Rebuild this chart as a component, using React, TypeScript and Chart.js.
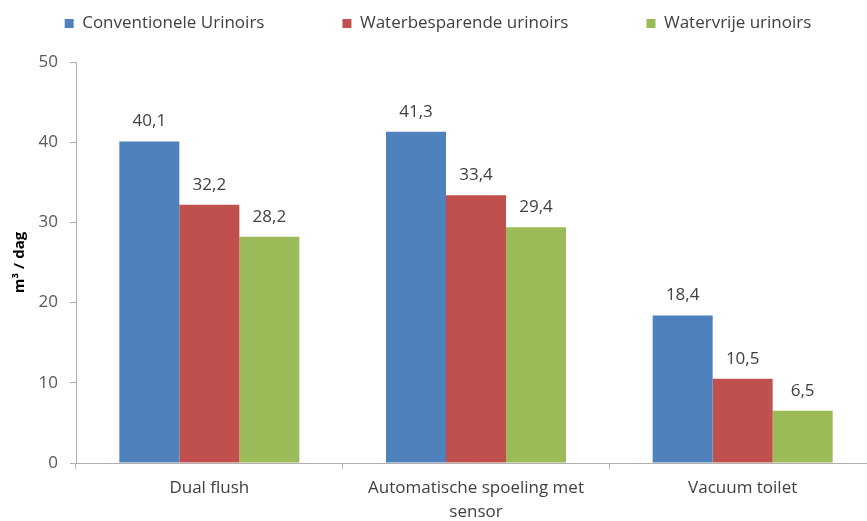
import React, { useEffect, useRef } from "react";
import { Chart, registerables } from "chart.js";

Chart.register(...registerables);

const categories: (string | string[])[] = [
  "Dual flush",
  ["Automatische spoeling met", "sensor"],
  "Vacuum toilet",
];
const seriesNames = [
  "Conventionele Urinoirs",
  "Waterbesparende urinoirs",
  "Watervrije urinoirs",
];
const conventional = [40.1, 41.3, 18.4];
const waterSaving = [32.2, 33.4, 10.5];
const waterless = [28.2, 29.4, 6.5];
const seriesColors = ["#4f81bd", "#c0504d", "#9bbb59"];
const yMin = 0;
const yMax = 50;
const yStep = 10;
const yTitle = "m³ / dag";

const FONT = "'Open Sans', sans-serif";
const LEGEND_GAP = 78;

const dataLabelPlugin = {
  id: "dataLabels",
  afterDatasetsDraw(chart: any) {
    const ctx = chart.ctx;
    ctx.save();
    ctx.font = `17px ${FONT}`;
    ctx.fillStyle = "#404040";
    ctx.textAlign = "center";
    ctx.textBaseline = "middle";
    chart.data.datasets.forEach((ds: any, i: number) => {
      const meta = chart.getDatasetMeta(i);
      meta.data.forEach((el: any, j: number) => {
        const v = ds.data[j] as number;
        ctx.fillText(v.toFixed(1).replace(".", ","), el.x, el.y - 20);
      });
    });
    ctx.restore();
  },
};

const legendPlacePlugin = {
  id: "legendPlace",
  afterInit(chart: any) {
    const lg = chart.legend;
    if (lg && !lg.__patched) {
      const orig = lg.update.bind(lg);
      lg.update = (mw: number, mh: number, m: any) => orig(mw + 400, mh, m);
      lg.__patched = true;
    }
  },
  afterLayout(chart: any) {
    const lg = chart.legend;
    if (lg) {
      lg.top = 15 - LEGEND_GAP;
      lg.left -= 200;
      lg.right += 200;
      lg.width = lg.right - lg.left;
    }
  },
};

export default function App() {
  const ref = useRef<HTMLCanvasElement | null>(null);
  useEffect(() => {
    if (!ref.current) return;
    const chart = new Chart(ref.current, {
      type: "bar",
      data: {
        labels: categories as any,
        datasets: [conventional, waterSaving, waterless].map((d, i) => ({
          label: seriesNames[i],
          data: d,
          backgroundColor: seriesColors[i],
          borderWidth: 0,
          barPercentage: 1,
          categoryPercentage: 0.675,
        })),
      },
      options: {
        responsive: false,
        animation: false,
        layout: { padding: { left: 0, right: 4, top: 0, bottom: 0 } },
        plugins: {
          tooltip: { enabled: false },
          legend: {
            position: "top",
            maxHeight: 62,
            labels: {
              boxWidth: 9,
              boxHeight: 9,
              padding: LEGEND_GAP,
              color: "#404040",
              font: { family: FONT, size: 17 },
            },
          },
        },
        scales: {
          x: {
            afterFit(scale: any) {
              scale.height = 58;
            },
            grid: {
              offset: true,
              drawOnChartArea: false,
              drawTicks: true,
              tickLength: 6,
              color: "#b0b0b0",
            },
            border: { color: "#b0b0b0" },
            ticks: {
              color: "#404040",
              font: { family: FONT, size: 17, lineHeight: 1.4 },
              padding: 7,
              maxRotation: 0,
              autoSkip: false,
            },
          },
          y: {
            min: yMin,
            max: yMax,
            afterFit(scale: any) {
              scale.width = 76;
            },
            grid: {
              drawOnChartArea: false,
              drawTicks: true,
              tickLength: 6,
              color: "#b0b0b0",
            },
            border: { color: "#b0b0b0" },
            ticks: {
              stepSize: yStep,
              color: "#595959",
              font: { family: FONT, size: 17 },
              padding: 12,
            },
            title: {
              display: true,
              text: yTitle,
              color: "#000000",
              font: { family: FONT, size: 15, weight: "bold" },
              padding: { top: 11, bottom: 0 },
            },
          },
        },
      },
      plugins: [dataLabelPlugin, legendPlacePlugin],
    });
    return () => chart.destroy();
  }, []);
  return (
    <div
      style={{
        position: "absolute",
        left: 0,
        top: 0,
        width: 867,
        height: 521,
        overflow: "hidden",
        background: "#ffffff",
      }}
    >
      <canvas ref={ref} width={880} height={521} style={{ display: "block" }} />
    </div>
  );
}
